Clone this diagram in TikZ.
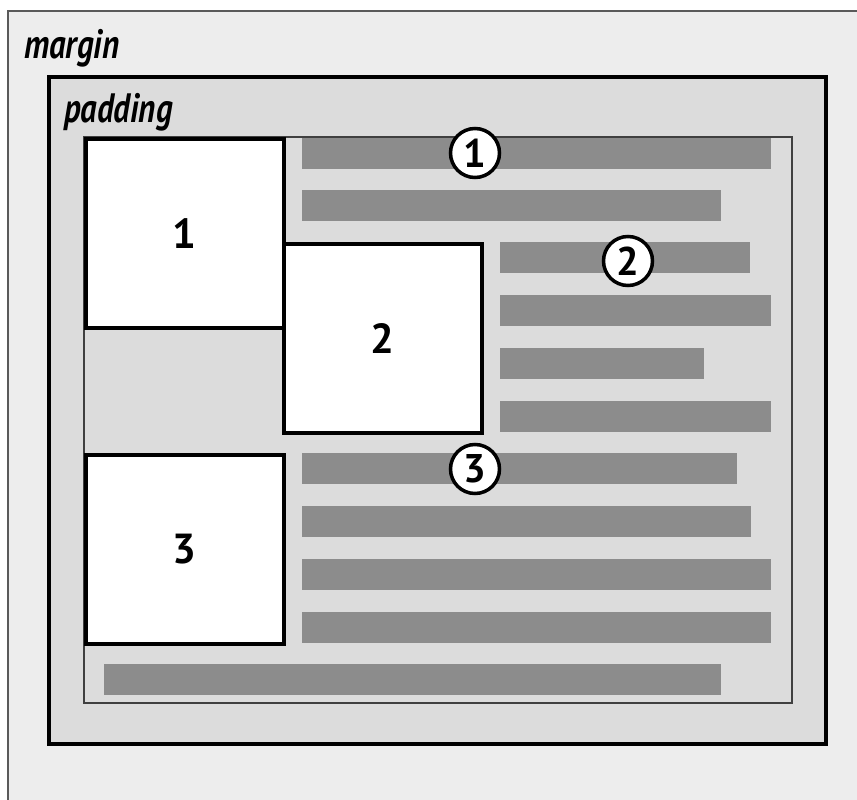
\documentclass[tikz,border=0pt]{standalone}
\usepackage{graphicx}
\usepackage{fontspec}
\setmainfont{PT Sans}
\usetikzlibrary{positioning}
\definecolor{MarginGray}{HTML}{EDEDED}
\definecolor{PadGray}{HTML}{DCDCDC}
\definecolor{TextLine}{HTML}{8C8C8C}
\definecolor{EdgeGray}{HTML}{5A5A5A}

\begin{document}
\begin{tikzpicture}[x=1pt,y=-1pt,
    floatbox/.style={draw=black,fill=white,line width=3.5pt,anchor=north west,inner sep=0pt,
      minimum width=198pt,minimum height=189pt,font=\fontsize{42}{44}\selectfont\bfseries},
    marker/.style={circle,draw=black,fill=white,line width=3.5pt,minimum size=49pt,inner sep=0pt,
      font=\fontsize{40}{42}\selectfont\bfseries},
    boxlabel/.style={anchor=base west,inner sep=0pt,font=\fontsize{41}{43}\selectfont\bfseries\itshape}]
    \clip (0,0) rectangle (857,800);
    \fill[white] (0,0) rectangle (857,800);

    % margin, border and padding areas
    \draw[EdgeGray,line width=2pt,fill=MarginGray] (8,11) rectangle (880,830);
    \draw[black,line width=3.5pt,fill=PadGray] (49,77) rectangle (826,744);
    \draw[black!75,line width=1.8pt,fill=PadGray] (84,137) rectangle (792,703);

    % lines of text flowing round the floats
    \foreach \xa/\xb/\ya in {302/771/138,302/721/190,500/750/242,500/771/295,500/704/348,500/771/401,302/737/453,302/751/506,302/771/559,302/771/612,104/721/664} {
      \fill[TextLine] (\xa,\ya) rectangle (\xb,\ya+31);
    }

    % floated boxes
    \node[floatbox] (float1) at (84,137) {1};
    \node[floatbox] (float2) at (282,242) {2};
    \node[floatbox] (float3) at (84,453) {3};

    % numbered markers
    \node[marker] (mark1) at (475,153) {1};
    \node[marker] (mark2) at (628,261) {2};
    \node[marker] (mark3) at (475,469) {3};

    \node[boxlabel] (marginlabel) at (24,59) {\scalebox{0.8}[1]{margin}};
    \node[boxlabel] (paddinglabel) at (64,122) {\scalebox{0.8}[1]{padding}};
  \end{tikzpicture}
\end{document}
